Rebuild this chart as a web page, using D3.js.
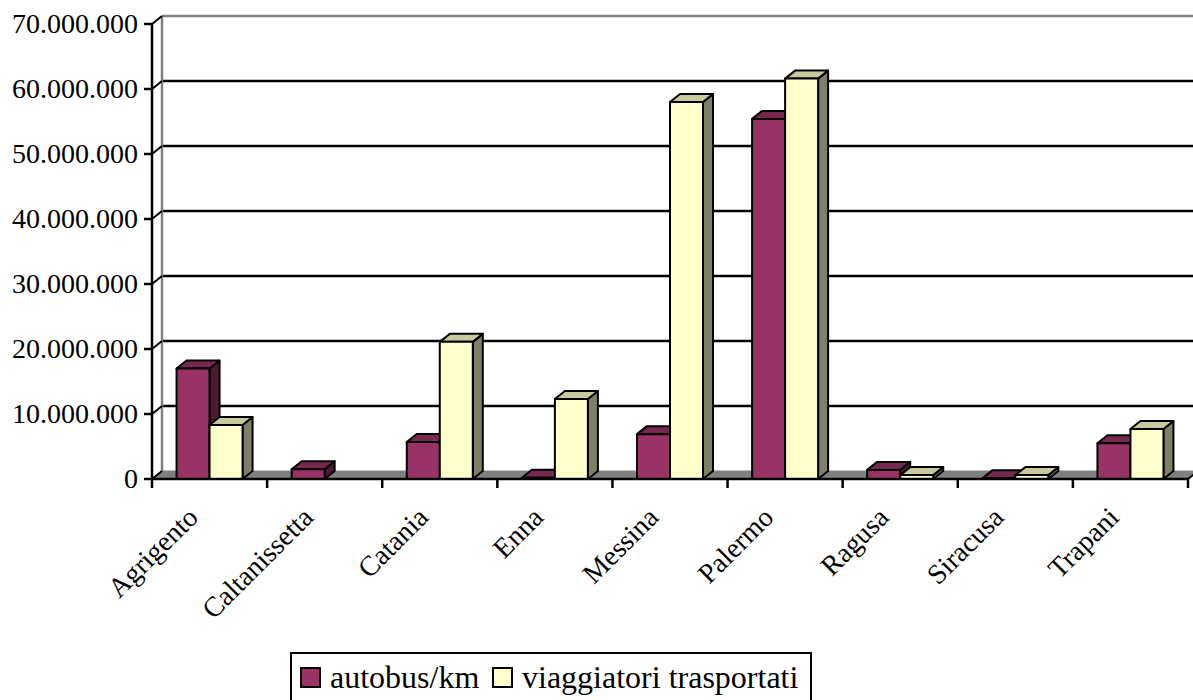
<!DOCTYPE html>
<html>
<head>
<meta charset="utf-8">
<script src="https://cdnjs.cloudflare.com/ajax/libs/d3/7.8.5/d3.min.js"></script>
<style>
  body { margin: 0; background: #fff; }
  svg text { font-family: "Liberation Serif", "Times New Roman", serif; fill: #000; }
</style>
</head>
<body>
<div id="chart"></div>
<script>
// data
var provinces = ["Agrigento", "Caltanissetta", "Catania", "Enna", "Messina", "Palermo", "Ragusa", "Siracusa", "Trapani"];
var autobusKm = [17000000, 1500000, 5700000, 200000, 6900000, 55400000, 1400000, 100000, 5500000];
var viaggiatori = [8300000, 0, 21100000, 12300000, 58000000, 61600000, 600000, 600000, 7700000];
var seriesNames = ["autobus/km", "viaggiatori trasportati"];
var yTicks = [0, 10000000, 20000000, 30000000, 40000000, 50000000, 60000000, 70000000];

var svgWidth = 1193;
var svgHeight = 700;

// 3d offset of the back wall
var dx = 10, dy = -8;

var colors = [
  { front: "#993366", top: "#772850", side: "#4d1a33" },
  { front: "#ffffcc", top: "#c9c99f", side: "#808068" }
];

var svg = d3.select("#chart")
  .append("svg")
  .attr("width", svgWidth)
  .attr("height", svgHeight);

var xScale = d3.scaleBand()
  .domain(provinces)
  .range([152, 1188]);

var yScale = d3.scaleLinear()
  .domain([0, 70000000])
  .range([479, 24]);

var barW = 33;
var inner = d3.scaleBand()
  .domain(seriesNames)
  .range([xScale.bandwidth() / 2 - barW, xScale.bandwidth() / 2 + barW]);

var fmt = d3.formatLocale({ decimal: ",", thousands: ".", grouping: [3], currency: ["", ""] }).format(",d");

var y0 = yScale(0);
var xL = xScale.range()[0], xR = xScale.range()[1];

// floor
svg.append("polygon")
  .attr("points", [[xL, y0], [xL + dx, y0 + dy], [xR + dx, y0 + dy], [xR, y0]].join(" "))
  .attr("fill", "#808080")
  .attr("stroke", "#808080");

// back wall grid lines
svg.selectAll(".grid")
  .data(yTicks.filter(d => d > 0))
  .enter()
  .append("line")
  .attr("x1", xL + dx)
  .attr("x2", svgWidth + 5)
  .attr("y1", d => yScale(d) + dy)
  .attr("y2", d => yScale(d) + dy)
  .attr("stroke", d => d === 70000000 ? "#808080" : "#000")
  .attr("stroke-width", 2.5);

// back wall left edge
svg.append("line")
  .attr("x1", xL + dx).attr("x2", xL + dx)
  .attr("y1", yScale(70000000) + dy).attr("y2", y0 + dy)
  .attr("stroke", "#808080")
  .attr("stroke-width", 2.5);

// bars, left to right, series in order
var bars = [];
provinces.forEach((p, i) => {
  [autobusKm[i], viaggiatori[i]].forEach((v, s) => {
    if (v > 0) bars.push({ p: p, v: v, s: s });
  });
});

bars.forEach(b => {
  var x = xScale(b.p) + inner(seriesNames[b.s]);
  var yt = yScale(b.v);
  var c = colors[b.s];
  var g = svg.append("g")
    .attr("stroke", "#000")
    .attr("stroke-width", 2)
    .attr("stroke-linejoin", "round");
  g.append("polygon")
    .attr("points", [[x + barW, yt], [x + barW + dx, yt + dy], [x + barW + dx, y0 + dy], [x + barW, y0]].join(" "))
    .attr("fill", c.side);
  g.append("polygon")
    .attr("points", [[x, yt], [x + dx, yt + dy], [x + barW + dx, yt + dy], [x + barW, yt]].join(" "))
    .attr("fill", c.top);
  g.append("rect")
    .attr("x", x).attr("y", yt)
    .attr("width", barW).attr("height", y0 - yt)
    .attr("fill", c.front);
});

// y axis
svg.append("line")
  .attr("x1", xL).attr("x2", xL)
  .attr("y1", yScale(70000000)).attr("y2", y0)
  .attr("stroke", "#000").attr("stroke-width", 2.5);

var yt = svg.selectAll(".ytick")
  .data(yTicks)
  .enter()
  .append("g");
yt.append("line")
  .attr("x1", xL - 8).attr("x2", xL)
  .attr("y1", d => yScale(d)).attr("y2", d => yScale(d))
  .attr("stroke", "#000").attr("stroke-width", 2.5);
yt.append("line")
  .attr("x1", xL).attr("x2", xL + dx)
  .attr("y1", d => yScale(d)).attr("y2", d => yScale(d) + dy)
  .attr("stroke", "#000").attr("stroke-width", 2);
yt.append("text")
  .attr("x", xL - 14)
  .attr("y", d => yScale(d) + 9)
  .attr("text-anchor", "end")
  .attr("font-size", 28)
  .text(d => fmt(d));

// x axis
svg.append("line")
  .attr("x1", xL).attr("x2", xR)
  .attr("y1", y0).attr("y2", y0)
  .attr("stroke", "#000").attr("stroke-width", 2.5);
svg.append("line")
  .attr("x1", xR).attr("x2", xR + dx)
  .attr("y1", y0).attr("y2", y0 + dy)
  .attr("stroke", "#000").attr("stroke-width", 2);

var bounds = provinces.map(p => xScale(p)).concat([xR]);
svg.selectAll(".xtick")
  .data(bounds)
  .enter()
  .append("line")
  .attr("x1", d => d).attr("x2", d => d)
  .attr("y1", y0).attr("y2", y0 + 9)
  .attr("stroke", "#000").attr("stroke-width", 2.5);

svg.selectAll(".xlabel")
  .data(provinces)
  .enter()
  .append("text")
  .attr("text-anchor", "end")
  .attr("font-size", 28)
  .attr("transform", d => `translate(${xScale(d) + xScale.bandwidth() / 2 - 10}, ${y0 + 40}) rotate(-45)`)
  .text(d => d);

// legend
var legend = svg.append("g");
legend.append("rect")
  .attr("x", 291).attr("y", 653)
  .attr("width", 520).attr("height", 60)
  .attr("fill", "#fff")
  .attr("stroke", "#000").attr("stroke-width", 2);

var legendX = [301, 493];
seriesNames.forEach((name, i) => {
  legend.append("rect")
    .attr("x", legendX[i]).attr("y", 668)
    .attr("width", 19).attr("height", 19)
    .attr("fill", colors[i].front)
    .attr("stroke", "#000").attr("stroke-width", 2);
  legend.append("text")
    .attr("x", legendX[i] + 29)
    .attr("y", 688)
    .attr("font-size", 32)
    .text(name);
});
</script>
</body>
</html>
